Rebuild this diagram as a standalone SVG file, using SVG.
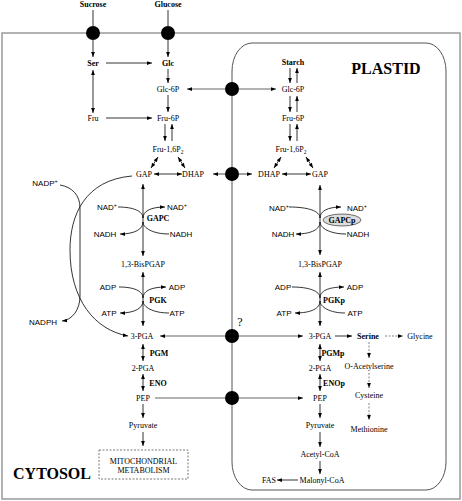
<svg xmlns="http://www.w3.org/2000/svg" width="462" height="501" viewBox="0 0 462 501">
<style>
.t{font-family:"Liberation Serif",serif;font-size:8px;text-anchor:middle;fill:#000}
.b{font-weight:bold}
.s{font-family:"Liberation Sans",sans-serif;font-size:8px;text-anchor:middle;fill:#000}
.big{font-family:"Liberation Serif",serif;font-size:16px;font-weight:bold;text-anchor:middle}
.a{fill:none;stroke:#000;stroke-width:0.8;marker-end:url(#ah)}
.d{fill:none;stroke:#000;stroke-width:0.8;marker-start:url(#ah);marker-end:url(#ah)}
.n{fill:none;stroke:#000;stroke-width:0.8}
.g{fill:none;stroke:#666;stroke-width:1.2}
.ga{fill:none;stroke:#666;stroke-width:1.2;marker-end:url(#ah)}
.ds{fill:none;stroke:#777;stroke-width:0.9;stroke-dasharray:2,1.5;marker-end:url(#ah)}
.c{fill:#000}
</style>
<defs>
<marker id="ah" viewBox="0 0 8 6" refX="8" refY="3" markerWidth="5" markerHeight="4" orient="auto-start-reverse" markerUnits="userSpaceOnUse">
<path d="M0,0 L8,3 L0,6 z" fill="#000"/>
</marker>
</defs>
<rect width="462" height="501" fill="#fff"/>
<g id="compartments">
<rect id="cytosol-box" x="2" y="33" width="458" height="466" fill="none" stroke="#999" stroke-width="1.5"/>
<rect id="plastid-box" x="232" y="43" width="214" height="447" rx="20" ry="28" fill="none" stroke="#555" stroke-width="1"/>
</g>
<g id="connectors">
<path class="n" d="M93,10 V26"/>
<path class="a" d="M93,40 V57"/>
<path class="n" d="M168,10 V26"/>
<path class="a" d="M168,40 V57"/>
<path class="a" d="M106,63 H152"/>
<path class="a" d="M168,69 V83"/>
<path class="d" d="M93,70 V113"/>
<path class="a" d="M106,118 H152"/>
<path class="a" d="M168,95 V112"/>
<path class="a" d="M165,124 V141"/>
<path class="a" d="M172,141 V124"/>
<path class="d" d="M151,168 L158,157"/>
<path class="d" d="M178,157 L185,168"/>
<path class="d" d="M154,174 H182"/>
<path class="ga" d="M225,174 H213"/>
<path class="ga" d="M225,89 H187"/>
<path class="ga" d="M239,89 H276"/>
<path class="a" d="M290,68 V83"/>
<path class="a" d="M297,83 V68"/>
<path class="a" d="M290,96 V112"/>
<path class="a" d="M297,112 V96"/>
<path class="a" d="M290,124 V141"/>
<path class="a" d="M297,141 V124"/>
<path class="d" d="M274,168 L281,157"/>
<path class="d" d="M306,157 L313,168"/>
<path class="ga" d="M239,174 H252"/>
<path class="d" d="M282,174 H311"/>
<path class="d" d="M143,184 V256"/>
<path class="d" d="M143,272 V326"/>
<path class="d" d="M143,344 V361"/>
<path class="d" d="M143,374 V391"/>
<path class="a" d="M143,404 V418"/>
<path class="a" d="M143,432 V446"/>
<path class="ga" d="M225,336 H160"/>
<path class="g" d="M155,398 H225"/>
<path class="a" d="M118,207 C133,207 143,211 143,218 C143,211 151,207 165,207"/>
<path class="a" d="M169,234 C153,234 143,228 143,222 C143,229 135,234 120,234"/>
<path class="a" d="M119,287 C134,287 143,291 143,298 C143,291 151,287 166,287"/>
<path class="a" d="M169,313 C153,313 143,307 143,301 C143,308 135,313 120,313"/>
<path class="a" d="M132,176 C85,180 70,215 70,250 C70,300 95,330 128,336"/>
<path class="a" d="M60,185 C72,187 80,195 80,208 L80,296 C80,310 72,320 62,321"/>
<path class="d" d="M320,185 V255"/>
<path class="d" d="M320,272 V326"/>
<path class="a" d="M289,207 C308,207 320,211 320,218 C320,211 328,207 341,207"/>
<path class="a" d="M346,234 C330,234 320,228 320,222 C320,229 312,234 296,234"/>
<path class="a" d="M292,287 C309,287 320,291 320,298 C320,291 328,287 344,287"/>
<path class="a" d="M345,313 C330,313 320,307 320,301 C320,308 312,313 295,313"/>
<path class="ga" d="M239,336 H303"/>
<path class="a" d="M335,336 H352"/>
<path class="ds" d="M385,336 H403"/>
<path class="ds" d="M369,342 V358"/>
<path class="ds" d="M369,373 V388"/>
<path class="ds" d="M369,403 V420"/>
<path class="d" d="M320,344 V361"/>
<path class="d" d="M320,374 V391"/>
<path class="ga" d="M239,398 H303"/>
<path class="a" d="M320,404 V418"/>
<path class="a" d="M320,432 V447"/>
<path class="a" d="M320,461 V474"/>
<path class="a" d="M298,480 H277"/>
</g>
<g id="transporters">
<circle class="c" cx="93" cy="33" r="7"/>
<circle class="c" cx="168" cy="33" r="7"/>
<circle class="c" cx="232" cy="89" r="7"/>
<circle class="c" cx="232" cy="174" r="7"/>
<circle class="c" cx="232" cy="336" r="7"/>
<circle class="c" cx="232" cy="398" r="7"/>
</g>
<g id="sucrose"><text class="t b" x="93" y="7">Sucrose</text></g>
<g id="glucose"><text class="t b" x="168" y="7">Glucose</text></g>
<g id="ser"><text class="t b" x="93" y="66">Ser</text></g>
<g id="glc"><text class="t b" x="168" y="66">Glc</text></g>
<g id="c-glc6p"><text class="t" x="168" y="92">Glc-6P</text></g>
<g id="fru"><text class="t" x="93" y="121">Fru</text></g>
<g id="c-fru6p"><text class="t" x="168" y="121">Fru-6P</text></g>
<g id="c-fru16p2"><text class="t" x="168" y="152">Fru-1,6P<tspan font-size="5.5" dy="2">2</tspan></text></g>
<g id="c-gap"><text class="t" x="144" y="177">GAP</text></g>
<g id="c-dhap"><text class="t" x="193" y="177">DHAP</text></g>
<g id="starch"><text class="t b" x="293" y="65">Starch</text></g>
<g id="p-glc6p"><text class="t" x="293" y="92">Glc-6P</text></g>
<g id="p-fru6p"><text class="t" x="293" y="121">Fru-6P</text></g>
<g id="p-fru16p2"><text class="t" x="291" y="152">Fru-1,6P<tspan font-size="5.5" dy="2">2</tspan></text></g>
<g id="p-dhap"><text class="t" x="269" y="177">DHAP</text></g>
<g id="p-gap"><text class="t" x="320" y="177">GAP</text></g>
<g id="plastid-label"><text class="big" x="386" y="74">PLASTID</text></g>
<g id="nadp"><text class="s" x="45" y="186">NADP<tspan font-size="5.5" dy="-3">+</tspan></text></g>
<g id="nadph"><text class="s" x="43" y="325">NADPH</text></g>
<g id="c-nad-l"><text class="s" x="107" y="210">NAD<tspan font-size="5.5" dy="-3">+</tspan></text></g>
<g id="c-nad-r"><text class="s" x="177" y="210">NAD<tspan font-size="5.5" dy="-3">+</tspan></text></g>
<g id="gapc"><text class="t b" x="158" y="221">GAPC</text></g>
<g id="c-nadh-l"><text class="s" x="105" y="237">NADH</text></g>
<g id="c-nadh-r"><text class="s" x="181" y="237">NADH</text></g>
<g id="c-bpga"><text class="t" x="143" y="267">1,3-BisPGAP</text></g>
<g id="c-adp-l"><text class="s" x="108" y="290">ADP</text></g>
<g id="c-adp-r"><text class="s" x="177" y="290">ADP</text></g>
<g id="pgk"><text class="t b" x="158" y="303">PGK</text></g>
<g id="c-atp-l"><text class="s" x="109" y="316">ATP</text></g>
<g id="c-atp-r"><text class="s" x="177" y="316">ATP</text></g>
<g id="c-3pga"><text class="t" x="142" y="339">3-PGA</text></g>
<g id="pgm"><text class="t b" x="159" y="356">PGM</text></g>
<g id="c-2pga"><text class="t" x="143" y="371">2-PGA</text></g>
<g id="eno"><text class="t b" x="158" y="386">ENO</text></g>
<g id="c-pep"><text class="t" x="143" y="401">PEP</text></g>
<g id="c-pyruvate"><text class="t" x="143" y="428">Pyruvate</text></g>
<g id="mito">
<rect x="99" y="450" width="89" height="29" fill="none" stroke="#555" stroke-width="0.8" stroke-dasharray="2,1.5"/>
<text class="t" x="143.5" y="464">MITOCHONDRIAL</text>
<text class="t" x="143.5" y="473">METABOLISM</text>
</g>
<g id="cytosol-label"><text class="big" x="52" y="479">CYTOSOL</text></g>
<g id="p-nad-l"><text class="s" x="279" y="211">NAD<tspan font-size="5.5" dy="-3">+</tspan></text></g>
<g id="p-nad-r"><text class="s" x="357" y="211">NAD<tspan font-size="5.5" dy="-3">+</tspan></text></g>
<g id="gapcp">
<ellipse cx="342" cy="220" rx="19" ry="6" fill="#ddd" stroke="#333" stroke-width="0.7"/>
<text class="t b" x="342" y="223">GAPCp</text>
</g>
<g id="p-nadh-l"><text class="s" x="283" y="237">NADH</text></g>
<g id="p-nadh-r"><text class="s" x="358" y="237">NADH</text></g>
<g id="p-bpga"><text class="t" x="320" y="267">1,3-BisPGAP</text></g>
<g id="p-adp-l"><text class="s" x="283" y="290">ADP</text></g>
<g id="p-adp-r"><text class="s" x="355" y="290">ADP</text></g>
<g id="pgkp"><text class="t b" x="334" y="303">PGKp</text></g>
<g id="p-atp-l"><text class="s" x="284" y="316">ATP</text></g>
<g id="p-atp-r"><text class="s" x="355" y="316">ATP</text></g>
<g id="question"><text class="t" x="240" y="326" style="font-size:12px">?</text></g>
<g id="p-3pga"><text class="t" x="320" y="339">3-PGA</text></g>
<g id="serine"><text class="t b" x="368" y="339">Serine</text></g>
<g id="glycine"><text class="t" x="420" y="339">Glycine</text></g>
<g id="pgmp"><text class="t b" x="333" y="356">PGMp</text></g>
<g id="oas"><text class="t" x="369" y="369">O-Acetylserine</text></g>
<g id="p-2pga"><text class="t" x="320" y="371">2-PGA</text></g>
<g id="enop"><text class="t b" x="334" y="386">ENOp</text></g>
<g id="p-pep"><text class="t" x="320" y="401">PEP</text></g>
<g id="cysteine"><text class="t" x="369" y="398">Cysteine</text></g>
<g id="p-pyruvate"><text class="t" x="320" y="428">Pyruvate</text></g>
<g id="methionine"><text class="t" x="369" y="432">Methionine</text></g>
<g id="acetylcoa"><text class="t" x="320" y="457">Acetyl-CoA</text></g>
<g id="malonylcoa"><text class="t" x="322" y="483">Malonyl-CoA</text></g>
<g id="fas"><text class="t" x="269" y="483">FAS</text></g>
</svg>
